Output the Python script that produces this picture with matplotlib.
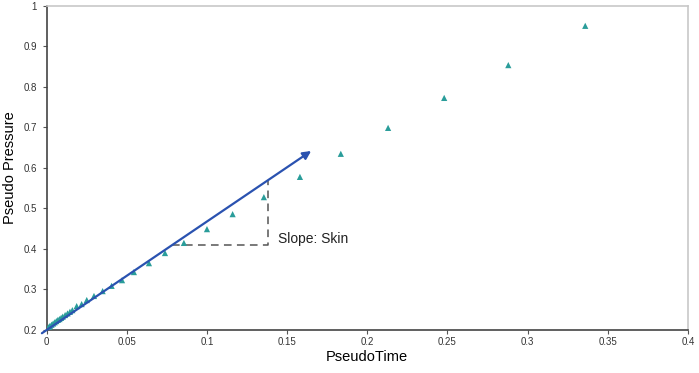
import matplotlib
matplotlib.use('Agg')
import matplotlib.pyplot as plt

# pseudo time vs pseudo pressure points
pseudo_time = [0.0005, 0.001, 0.0015, 0.002, 0.003, 0.004, 0.005, 0.006, 0.007,
               0.008, 0.009, 0.010, 0.0115, 0.013, 0.0145, 0.016, 0.0187, 0.0218,
               0.025, 0.0295, 0.0349, 0.0405, 0.047, 0.0544, 0.0638, 0.0738,
               0.0856, 0.100, 0.116, 0.1355, 0.158, 0.1835, 0.213, 0.248,
               0.288, 0.336]
pseudo_pressure = [0.203, 0.206, 0.208, 0.210, 0.213, 0.216, 0.219, 0.222, 0.225,
                   0.227, 0.230, 0.233, 0.237, 0.241, 0.245, 0.249, 0.259, 0.264,
                   0.274, 0.284, 0.296, 0.309, 0.323, 0.343, 0.365, 0.390,
                   0.415, 0.449, 0.486, 0.528, 0.578, 0.635, 0.699, 0.773,
                   0.854, 0.951]

# slope line (arrow) and the slope triangle
arrow_start = (-0.003, 0.192)
arrow_end = (0.165, 0.642)
tri_x = [0.0784, 0.1378, 0.1378]
tri_y = [0.410, 0.410, 0.569]

plt.rcParams['font.family'] = ['Liberation Sans', 'DejaVu Sans']

fig = plt.figure(figsize=(6.99, 3.73), dpi=100)
ax = fig.add_axes([0.0668, 0.1153, 0.9172, 0.8687])

ax.scatter(pseudo_time, pseudo_pressure, marker='^', s=20, color='#2a9d9a',
           edgecolors='none', zorder=3)

ax.annotate('', xy=arrow_end, xytext=arrow_start, annotation_clip=False,
            arrowprops=dict(arrowstyle='-|>', color='#2a52b0', lw=1.6,
                            mutation_scale=12, shrinkA=0, shrinkB=0), zorder=4)

ax.plot(tri_x, tri_y, color='#555555', lw=1.1, dashes=(5, 3.5), zorder=2)
ax.text(0.1445, 0.425, 'Slope: Skin', fontsize=10, va='center', ha='left',
        color='#222222')

ax.set_xlim(0, 0.4)
ax.set_ylim(0.2, 1)
ax.set_xticks([0, 0.05, 0.1, 0.15, 0.2, 0.25, 0.3, 0.35, 0.4])
ax.set_xticklabels(['0', '0.05', '0.1', '0.15', '0.2', '0.25', '0.3', '0.35', '0.4'])
ax.set_yticks([0.2, 0.3, 0.4, 0.5, 0.6, 0.7, 0.8, 0.9, 1])
ax.set_yticklabels(['0.2', '0.3', '0.4', '0.5', '0.6', '0.7', '0.8', '0.9', '1'])
ax.tick_params(direction='out', length=3, width=0.8, labelsize=7,
               labelcolor='#333333', color='#555555', pad=2)
ax.tick_params(axis='y', pad=4)

ax.spines['left'].set_color('#444444')
ax.spines['bottom'].set_color('#444444')
ax.spines['top'].set_color('#c8c8c8')
ax.spines['right'].set_color('#c8c8c8')
for s in ax.spines.values():
    s.set_linewidth(1.2)

ax.set_xlabel('PseudoTime', fontsize=10.5)
ax.set_ylabel('Pseudo Pressure', fontsize=10.5)
ax.xaxis.set_label_coords(0.5, -0.062)
ax.yaxis.set_label_coords(-0.047, 0.5)

fig.savefig('out.png', dpi=100)
